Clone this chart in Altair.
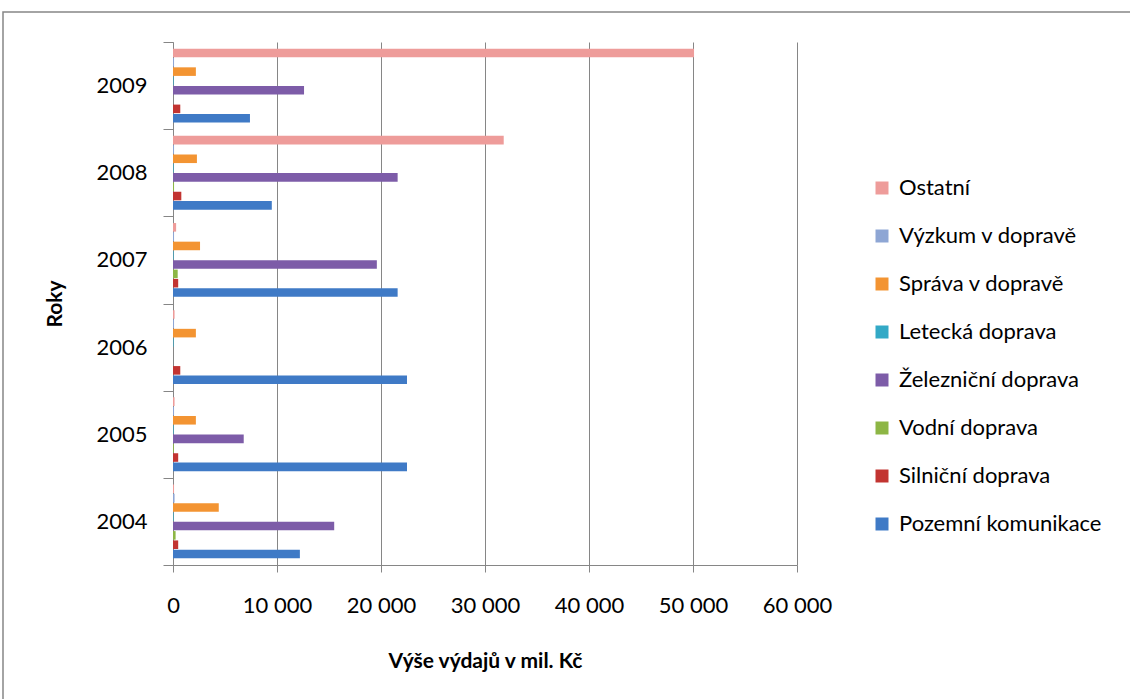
import altair as alt
import pandas as pd

years = ["2004", "2005", "2006", "2007", "2008", "2009"]
series = ["Ostatní", "Výzkum v dopravě", "Správa v dopravě", "Letecká doprava",
          "Železniční doprava", "Vodní doprava", "Silniční doprava", "Pozemní komunikace"]
colors = ["#EE9C9A", "#8EA6D4", "#F39432", "#33A9C6", "#7D5CA8", "#8DB645", "#C23431", "#3F7AC6"]

pozemni = [12200, 22500, 22500, 21600, 9500, 7400]
silnicni = [500, 500, 700, 500, 800, 700]
vodni = [250, 80, 0, 450, 100, 0]
zeleznicni = [15500, 6800, 0, 19600, 21600, 12600]
letecka = [60, 60, 60, 60, 60, 60]
sprava = [4400, 2200, 2200, 2600, 2300, 2200]
vyzkum = [150, 100, 100, 100, 100, 100]
ostatni = [100, 150, 150, 300, 31800, 50100]

values = {
    "Ostatní": ostatni,
    "Výzkum v dopravě": vyzkum,
    "Správa v dopravě": sprava,
    "Letecká doprava": letecka,
    "Železniční doprava": zeleznicni,
    "Vodní doprava": vodni,
    "Silniční doprava": silnicni,
    "Pozemní komunikace": pozemni,
}

rows = []
for s in series:
    for y, v in zip(years, values[s]):
        rows.append({"Rok": y, "Řada": s, "Hodnota": v})
df = pd.DataFrame(rows)

FONT = "Lato"
GRID = "#868686"
FS = 22

bars = alt.Chart(df).mark_bar(stroke=None).encode(
    x=alt.X("Hodnota:Q",
            scale=alt.Scale(domain=[0, 60000], nice=False),
            axis=alt.Axis(values=[0, 10000, 20000, 30000, 40000, 50000, 60000],
                          labelExpr="replace(format(datum.value, ',d'), ',', ' ')",
                          title="Výše výdajů v  mil. Kč",
                          grid=True, gridColor=GRID, gridWidth=1,
                          domainColor=GRID, tickColor=GRID, tickSize=7,
                          labelFontSize=FS, labelFont=FONT, labelColor="#000000",
                          labelPadding=23, labelFlush=False,
                          titleFontSize=FS - 1, titleFont=FONT, titleFontWeight="bold",
                          titleColor="#000000", titlePadding=34)),
    y=alt.Y("Rok:N", sort=years[::-1],
            scale=alt.Scale(paddingInner=0, paddingOuter=0),
            axis=alt.Axis(title="Roky", tickBand="extent", tickSize=10,
                          domainColor=GRID, tickColor=GRID,
                          labelFontSize=FS, labelFont=FONT, labelColor="#000000",
                          labelPadding=16,
                          titleFontSize=FS - 1, titleFont=FONT, titleFontWeight="bold",
                          titleColor="#000000", titlePadding=30)),
    yOffset=alt.YOffset("Řada:N", sort=series,
                        scale=alt.Scale(paddingInner=0.08, paddingOuter=0.72)),
    color=alt.Color("Řada:N", sort=series,
                    scale=alt.Scale(domain=series, range=colors),
                    legend=alt.Legend(title=None, orient="none",
                                      legendX=698, legendY=135,
                                      symbolType="square", symbolSize=169,
                                      symbolStrokeWidth=0,
                                      labelFontSize=FS, labelFont=FONT,
                                      labelColor="#000000", labelLimit=400,
                                      rowPadding=26, labelOffset=6)),
)

frame = alt.Chart(pd.DataFrame({"a": [0]})).mark_rect(
    fill=None, stroke=GRID, strokeWidth=1.5
).encode(x=alt.value(-170), x2=alt.value(1000), y=alt.value(-30), y2=alt.value(700))

chart = alt.layer(bars, frame).properties(
    width=624, height=523,
    padding={"left": 173, "top": 42, "right": 333, "bottom": 134},
    autosize=alt.AutoSizeParams(type="none"),
    background="white",
).configure_view(stroke=None)

chart.save("out.html", embed_options={"renderer": "svg", "actions": False})
